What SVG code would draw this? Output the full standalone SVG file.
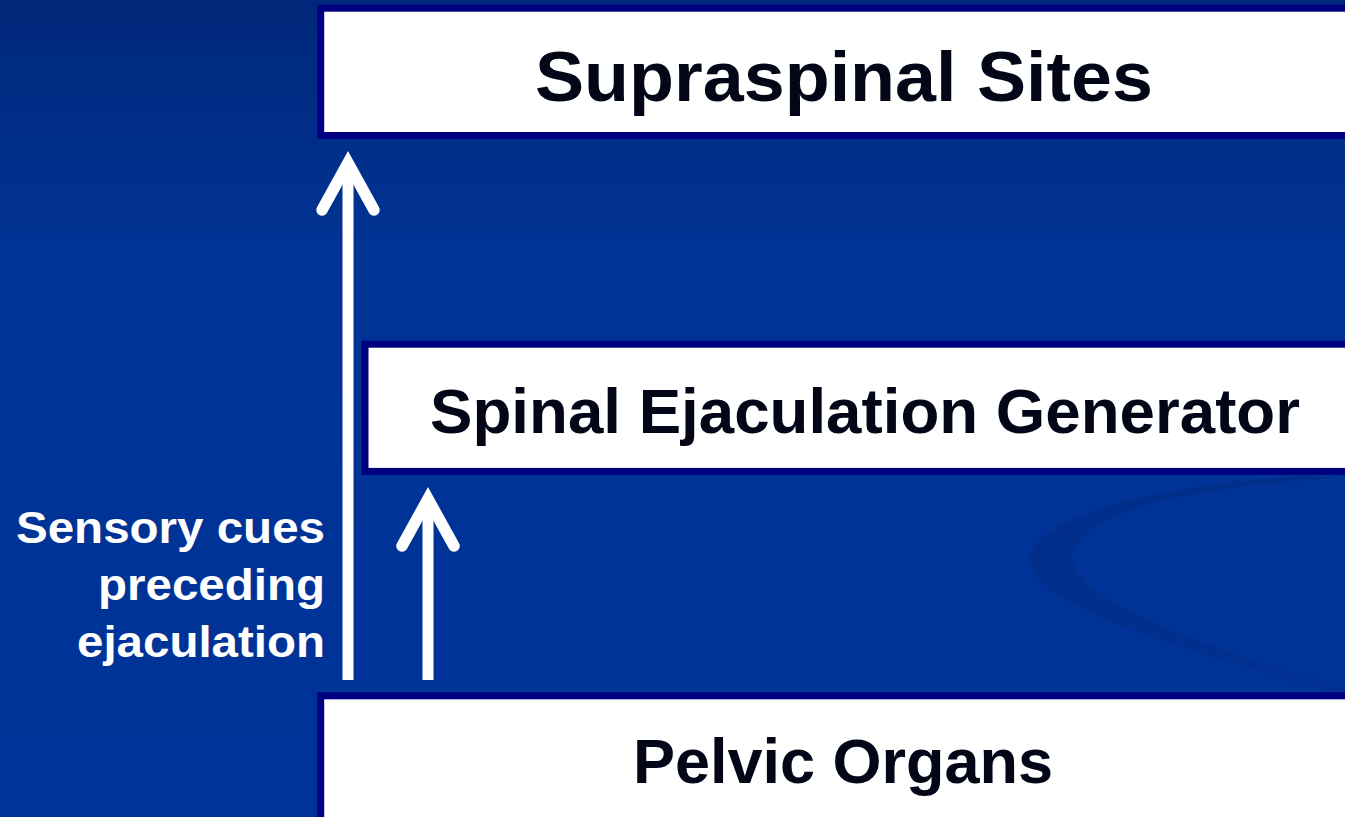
<svg xmlns="http://www.w3.org/2000/svg" width="1345" height="817" viewBox="0 0 1345 817">
  <defs>
    <linearGradient id="bg" x1="0" y1="0" x2="0" y2="1">
      <stop offset="0" stop-color="#00287a"/>
      <stop offset="0.3" stop-color="#003394"/>
      <stop offset="1" stop-color="#003399"/>
    </linearGradient>
    <linearGradient id="sw" x1="0" y1="0" x2="1" y2="1">
      <stop offset="0" stop-color="#002c84" stop-opacity="0.75"/>
      <stop offset="1" stop-color="#002c84" stop-opacity="0.3"/>
    </linearGradient>
  </defs>
  <style>
    .box { fill: #ffffff; stroke: #000080; stroke-width: 7; }
    .title { font-family: "Liberation Sans", Arial, sans-serif; font-weight: bold; fill: #020617; text-anchor: middle; }
    .label { font-family: "Liberation Sans", Arial, sans-serif; font-weight: bold; fill: #ffffff; text-anchor: end; font-size: 44px; }
    .shaft { stroke: #ffffff; stroke-width: 11; fill: none; stroke-linecap: butt; }
    .head { stroke: #ffffff; stroke-width: 11.5; fill: none; stroke-linecap: round; stroke-linejoin: miter; stroke-miterlimit: 10; }
  </style>
  <rect x="0" y="0" width="1345" height="817" fill="url(#bg)"/>
  <path d="M 1300 476 C 1150 485, 1030 520, 1030 560 C 1035 612, 1200 652, 1345 697 L 1345 688 C 1200 645, 1075 602, 1072 557 C 1075 510, 1200 485, 1345 478 Z" fill="url(#sw)"/>

  <g id="node-supraspinal">
    <rect class="box" x="320.7" y="8.2" width="1060" height="127.3"/>
    <text class="title" x="844" y="101" font-size="70" textLength="618" lengthAdjust="spacingAndGlyphs">Supraspinal Sites</text>
  </g>
  <g id="node-spinal">
    <rect class="box" x="365" y="344.2" width="1020" height="127.2"/>
    <text class="title" x="865" y="433" font-size="63.5" textLength="870" lengthAdjust="spacingAndGlyphs">Spinal Ejaculation Generator</text>
  </g>
  <g id="node-pelvic">
    <rect class="box" x="320.7" y="695.8" width="1060" height="160"/>
    <text class="title" x="843" y="783" font-size="63">Pelvic Organs</text>
  </g>

  <g id="connectors">
    <g id="edge-pelvic-supraspinal">
      <line class="shaft" x1="348" y1="680" x2="348" y2="170"/>
      <path class="head" d="M 322 210 L 348 163 L 374 210"/>
    </g>
    <g id="edge-pelvic-spinal">
      <line class="shaft" x1="428" y1="680" x2="428" y2="506"/>
      <path class="head" d="M 402 546 L 428 499 L 454 546"/>
    </g>
  </g>

  <g id="label-sensory">
    <text class="label" x="325" y="543" textLength="309" lengthAdjust="spacingAndGlyphs">Sensory cues</text>
    <text class="label" x="325" y="600" textLength="227" lengthAdjust="spacingAndGlyphs">preceding</text>
    <text class="label" x="325" y="657" textLength="248" lengthAdjust="spacingAndGlyphs">ejaculation</text>
  </g>
</svg>
